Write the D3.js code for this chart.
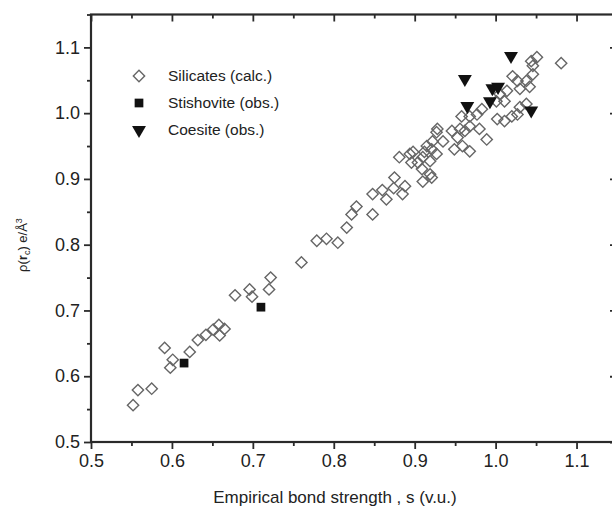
<!DOCTYPE html>
<html><head><meta charset="utf-8">
<script src="https://cdn.jsdelivr.net/npm/d3@7"></script>
<style>
body{margin:0;background:#fff;}
svg{display:block;overflow:hidden;}
text{font-family:"Liberation Sans",Arial,sans-serif;fill:#222;}
</style></head>
<body>
<svg id="c" width="612" height="510"></svg>
<script>
// Silicates (calc.) : [s, rho]
const silicatesS = [0.552,0.558,0.575,0.591,0.601,0.598,0.622,0.632,0.642,0.651,0.658,0.659,0.665,0.678,0.696,0.699,0.720,0.722,0.760,0.779,0.791,0.805,0.816,0.822,0.828,0.848,0.848,0.860,0.865,0.875,0.874,0.885,0.881,0.894,0.896,0.909,0.912,0.921,0.921,0.927,0.888,0.898,0.904,0.910,0.919,0.919,0.915,0.922,0.927,0.928,0.935,0.946,0.953,0.956,0.962,0.959,0.968,0.968,0.980,0.958,0.968,0.977,0.983,1.001,1.002,1.011,1.020,1.027,1.030,1.038,1.005,1.011,1.014,1.030,1.042,1.038,1.021,1.027,1.046,1.046,1.044,1.051,1.081,0.989,0.949,0.910];
const silicatesRho = [0.556,0.579,0.581,0.643,0.625,0.613,0.637,0.655,0.663,0.671,0.678,0.662,0.672,0.723,0.732,0.721,0.732,0.750,0.773,0.806,0.809,0.803,0.826,0.846,0.858,0.846,0.877,0.883,0.869,0.902,0.886,0.877,0.933,0.938,0.925,0.915,0.941,0.945,0.902,0.971,0.889,0.941,0.925,0.933,0.927,0.907,0.950,0.957,0.938,0.976,0.957,0.973,0.963,0.976,0.973,0.950,0.942,0.980,0.976,0.995,0.995,0.998,1.006,1.018,0.991,0.988,0.995,0.998,1.009,1.014,1.029,1.018,1.034,1.037,1.040,1.049,1.056,1.049,1.059,1.072,1.079,1.085,1.076,0.960,0.945,0.896];
// Stishovite (obs.)
const stishoviteS = [0.615,0.710];
const stishoviteRho = [0.620,0.705];
// Coesite (obs.)
const coesiteS = [0.962,1.019,0.965,0.996,1.003,0.993,1.044];
const coesiteRho = [1.052,1.087,1.011,1.038,1.040,1.018,1.004];

const xTicks = [0.5,0.6,0.7,0.8,0.9,1.0,1.1];
const yTicks = [0.5,0.6,0.7,0.8,0.9,1.0,1.1];
const xMinor = [0.55,0.65,0.75,0.85,0.95,1.05,1.15];
const yMinor = [0.55,0.65,0.75,0.85,0.95,1.05,1.15];

const svg = d3.select("#c");
const L=91, T=14.5, R=617, B=442;
const x = d3.scaleLinear().domain([0.5,1.15]).range([L,R]);
const y = d3.scaleLinear().domain([0.5,1.15]).range([B,T]);
const axCol="#2a2a2a";

// frame
svg.append("rect").attr("x",L).attr("y",T).attr("width",R-L).attr("height",B-T)
  .attr("fill","none").attr("stroke",axCol).attr("stroke-width",2.2);

const fmt = d3.format(".1f");
// bottom axis
svg.append("g").attr("transform",`translate(0,${B})`)
  .call(d3.axisBottom(x).tickValues(xTicks).tickFormat(fmt).tickSize(7).tickPadding(5));
svg.append("g").attr("transform",`translate(0,${B})`)
  .call(d3.axisBottom(x).tickValues(xMinor).tickFormat("").tickSize(4));
// top axis inward
svg.append("g").attr("transform",`translate(0,${T})`)
  .call(d3.axisBottom(x).tickValues(xTicks).tickFormat("").tickSize(7));
svg.append("g").attr("transform",`translate(0,${T})`)
  .call(d3.axisBottom(x).tickValues(xMinor).tickFormat("").tickSize(4));
// left axis
svg.append("g").attr("transform",`translate(${L},0)`)
  .call(d3.axisLeft(y).tickValues(yTicks).tickFormat(fmt).tickSize(7).tickPadding(4));
svg.append("g").attr("transform",`translate(${L},0)`)
  .call(d3.axisLeft(y).tickValues(yMinor).tickFormat("").tickSize(4));
// right axis inward
svg.append("g").attr("transform",`translate(${R},0)`)
  .call(d3.axisLeft(y).tickValues(yTicks).tickFormat("").tickSize(7));
svg.append("g").attr("transform",`translate(${R},0)`)
  .call(d3.axisLeft(y).tickValues(yMinor).tickFormat("").tickSize(4));

svg.selectAll(".domain").remove();
svg.selectAll(".tick line").attr("stroke",axCol).attr("stroke-width",1.8);
svg.selectAll(".tick text").attr("font-size",18).attr("fill","#222")
  .style("font-family",'"Liberation Sans",Arial,sans-serif');

// points
const diamond = d3.symbol().type(d3.symbolSquare).size(64);
const square = d3.symbol().type(d3.symbolSquare).size(76);
const tri = d3.symbol().type(d3.symbolTriangle).size(84);

const sil = silicatesS.map((s,i)=>[s,silicatesRho[i]]);
svg.append("g").selectAll("path").data(sil).join("path")
  .attr("d",diamond)
  .attr("transform",d=>`translate(${x(d[0])},${y(d[1])}) rotate(45)`)
  .attr("fill","none").attr("stroke","#666").attr("stroke-width",1.4);

const sti = stishoviteS.map((s,i)=>[s,stishoviteRho[i]]);
svg.append("g").selectAll("path").data(sti).join("path")
  .attr("d",square)
  .attr("transform",d=>`translate(${x(d[0])},${y(d[1])})`)
  .attr("fill","#111");

const coe = coesiteS.map((s,i)=>[s,coesiteRho[i]]);
svg.append("g").selectAll("path").data(coe).join("path")
  .attr("d",tri)
  .attr("transform",d=>`translate(${x(d[0])},${y(d[1])}) rotate(180)`)
  .attr("fill","#111");

// legend
const lg = svg.append("g");
const legendItems = ["Silicates (calc.)","Stishovite (obs.)","Coesite (obs.)"];
const ly = [76,103,130];
lg.append("path").attr("d",diamond).attr("transform",`translate(139,${ly[0]}) rotate(45)`)
  .attr("fill","none").attr("stroke","#666").attr("stroke-width",1.4);
lg.append("path").attr("d",square).attr("transform",`translate(139,${ly[1]})`).attr("fill","#111");
lg.append("path").attr("d",tri).attr("transform",`translate(139,${ly[2]}) rotate(180)`).attr("fill","#111");
legendItems.forEach((t,i)=>{
  lg.append("text").attr("x",168).attr("y",ly[i]).attr("dy","0.35em")
    .attr("font-size",15.5).text(t);
});

// axis titles
svg.append("text").attr("x",335).attr("y",503).attr("text-anchor","middle")
  .attr("font-size",17).text("Empirical bond strength , s  (v.u.)");

const yt = svg.append("text").attr("transform","translate(27,245) rotate(-90)")
  .attr("text-anchor","middle").attr("font-size",13);
yt.append("tspan").text("\u03c1(");
yt.append("tspan").attr("font-weight","bold").text("r");
yt.append("tspan").attr("font-size",9).attr("dy",3).text("c");
yt.append("tspan").attr("dy",-3).text(") e/\u00c5");
yt.append("tspan").attr("font-size",9).attr("dy",-5).text("3");
</script>
</body></html>
